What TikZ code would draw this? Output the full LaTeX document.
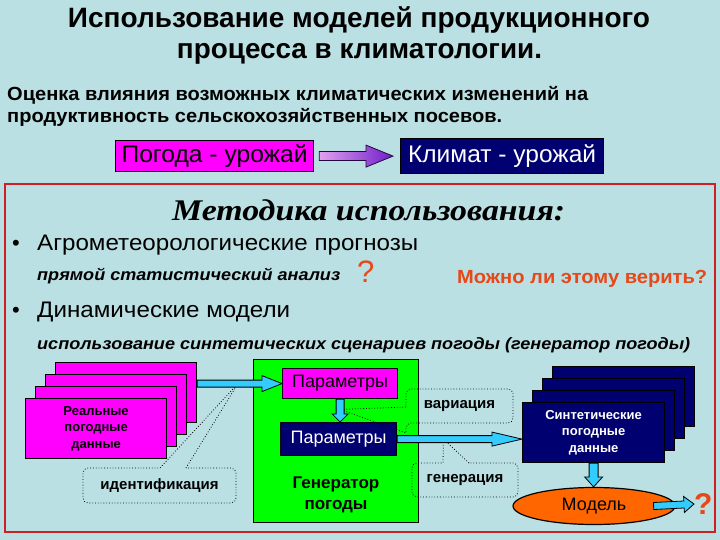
\documentclass[tikz,border=0pt]{standalone}
\usepackage{fontspec}
\setmainfont{Liberation Sans}
\newfontfamily\tnr{Liberation Serif}
\usetikzlibrary{shapes.geometric,shapes.callouts,calc}
\definecolor{bgC}{RGB}{187,224,227}
\definecolor{redC}{RGB}{206,32,32}
\definecolor{oraC}{RGB}{232,72,24}
\definecolor{magC}{RGB}{255,0,255}
\definecolor{navC}{RGB}{0,0,112}
\definecolor{grnC}{RGB}{0,255,0}
\definecolor{cyaC}{RGB}{51,204,255}
\definecolor{ellC}{RGB}{255,102,0}
\definecolor{purL}{RGB}{226,160,240}
\definecolor{purR}{RGB}{110,30,200}
\newcommand{\wfit}[2]{\resizebox{#1}{\height}{#2}}
\newcommand{\fsz}[2]{\fontsize{#1}{#2}\selectfont}
% fat arrow: [style]{start}{end}{shaft half}{head half}{head length}
\newcommand{\fatarr}[6][]{%
  \path[#1] let \p1=#2, \p2=#3, \n1={atan2(\y2-\y1,\x2-\x1)}, \n2={veclen(\x2-\x1,\y2-\y1)} in
    [shift={(\p1)},rotate=\n1]
    (0pt,{#4*1pt}) -- ({(\n2-#6)*1pt},{#4*1pt}) -- ({(\n2-#6)*1pt},{#5*1pt}) -- ({\n2*1pt},0pt)
    -- ({(\n2-#6)*1pt},{-#5*1pt}) -- ({(\n2-#6)*1pt},{-#4*1pt}) -- (0pt,{-#4*1pt}) -- cycle;}
\tikzset{
  txt/.style={inner sep=0pt, anchor=base west},
  box/.style={draw=black, line width=1.2pt, inner sep=0pt, anchor=north west},
  magbox/.style={box, fill=magC},
  navbox/.style={box, fill=navC, text=white},
  cyanarrow/.style={draw=black, line width=0.8pt, fill=cyaC},
  purplearrow/.style={draw=black!70!purR, line width=0.8pt, left color=purL, right color=purR},
  callbox/.style={shape=rectangle callout, draw=black, dotted, line width=0.8pt, rounded corners=5pt,
    inner sep=0pt, callout pointer width=26pt, font=\bfseries\fsz{15}{18}},
}
\begin{document}
\begin{tikzpicture}[x=1pt,y=-1pt]
\useasboundingbox (0,0) rectangle (720,540);
\fill[bgC] (0,0) rectangle (720,540);

% titles
\node[inner sep=0pt, anchor=base, font=\bfseries\fsz{28}{32}] (t1) at (359,28) {\wfit{582pt}{Использование моделей продукционного}};
\node[inner sep=0pt, anchor=base, font=\bfseries\fsz{28}{32}] (t2) at (359.5,59) {\wfit{365pt}{процесса в климатологии.}};
\node[txt, font=\bfseries\fsz{19}{22}] (s1) at (7,101) {\wfit{581pt}{Оценка влияния возможных климатических изменений на}};
\node[txt, font=\bfseries\fsz{19}{22}] (s2) at (7,123) {\wfit{495pt}{продуктивность сельскохозяйственных посевов.}};

% weather / climate boxes
\node[magbox, minimum width=198pt, minimum height=31pt, font=\fsz{24}{26}] (pogoda) at (115,140) {\wfit{186pt}{Погода - урожай}};
\node[navbox, minimum width=203pt, minimum height=35pt, font=\fsz{24}{26}] (klimat) at (400,138) {\wfit{188pt}{Климат - урожай}};
\fatarr[purplearrow]{($(pogoda.east)+(5,0)$)}{($(klimat.west)+(-7,0)$)}{4.5}{11}{27}

% red frame
\draw[redC, line width=2pt] (5,184) rectangle (715,532);

\node[inner sep=0pt, anchor=base west, font=\tnr\bfseries\itshape\fsz{30}{34}] (meth) at (172,220) {\wfit{393pt}{Методика использования:}};
\node[txt, font=\fsz{22}{26}] (b1) at (12,251) {•};
\node[txt, font=\fsz{22.5}{26}] (l1) at (37,251) {\wfit{381pt}{Агрометеорологические прогнозы}};
\node[txt, font=\bfseries\itshape\fsz{16.5}{19}] (l2) at (37,280) {\wfit{303pt}{прямой статистический анализ}};
\node[txt, font=\fsz{31}{34}, text=oraC] (q1) at (357,282) {?};
\node[txt, font=\bfseries\fsz{19}{22}, text=oraC] (l3) at (457,283) {\wfit{250pt}{Можно ли этому верить?}};
\node[txt, font=\fsz{22}{26}] (b2) at (12,317) {•};
\node[txt, font=\fsz{22.5}{26}] (l4) at (37,317) {\wfit{253pt}{Динамические модели}};
\node[txt, font=\bfseries\itshape\fsz{16.5}{19}] (l5) at (37,349) {\wfit{653pt}{использование синтетических сценариев погоды (генератор погоды)}};

% left stack
\node[magbox, minimum width=141pt, minimum height=60pt] (real4) at (55,362) {};
\node[magbox, minimum width=141pt, minimum height=60pt] (real3) at (45,374) {};
\node[magbox, minimum width=141pt, minimum height=60pt] (real2) at (35,386) {};
\node[magbox, minimum width=141pt, minimum height=60pt, align=center, font=\bfseries\fsz{13}{16.5}] (real1) at (25,398) {Реальные\\погодные\\данные};

% right stack
\node[navbox, minimum width=142pt, minimum height=60pt] (syn4) at (552,366) {};
\node[navbox, minimum width=142pt, minimum height=60pt] (syn3) at (542,378) {};
\node[navbox, minimum width=142pt, minimum height=60pt] (syn2) at (532,390) {};
\node[navbox, minimum width=142pt, minimum height=60pt, align=center, font=\bfseries\fsz{13}{16.5}] (syn1) at (522,402) {Синтетические\\погодные\\данные};

% generator
\node[box, fill=grnC, minimum width=165pt, minimum height=163pt] (gen) at (253,359) {};
\node[magbox, minimum width=115pt, minimum height=30pt, font=\fsz{18}{22}] (pm) at (282,368) {Параметры};
\node[navbox, minimum width=116pt, minimum height=33pt, font=\fsz{18}{22}] (pn) at (280,422) {Параметры};
\node[inner sep=0pt, align=center, font=\bfseries\fsz{17}{21.5}] (gtxt) at (336,495) {Генератор\\погоды};

% model
\node[ellipse, draw=black, line width=1.2pt, fill=ellC, minimum width=162pt, minimum height=37pt, inner sep=0pt, font=\fsz{18}{22}] (model) at (594,506) {Модель};
\node[inner sep=0pt, anchor=west, font=\bfseries\fsz{30}{34}, text=oraC] (q2) at (694,504) {?};

% pointer targets
\coordinate (pid) at ($(real4.east |- pm.west)!0.48!(pm.west)$);
\coordinate (pvar) at ($(pm.south)!0.45!(pm.south |- pn.north)$);
\coordinate (pgen) at ($(pn.east)!0.37!(syn1.west |- pn.east)$);

% callouts
\node[callbox, minimum width=153pt, minimum height=35pt, callout absolute pointer={(pid)}] (ident) at (159.5,485.5) {идентификация};
\node[callbox, minimum width=107pt, minimum height=34pt, callout absolute pointer={(pvar)}] (var) at (459.5,406) {вариация};
\node[callbox, minimum width=106pt, minimum height=34pt, callout absolute pointer={(pgen)}] (genr) at (465,480) {генерация};

% arrows
\fatarr[cyanarrow]{(real4.east |- pm.west)}{(pm.west)}{3.5}{8}{20}
\fatarr[cyanarrow]{(pm.south)}{(pm.south |- pn.north)}{4}{8}{8}
\fatarr[cyanarrow]{(pn.east)}{(syn1.west |- pn.east)}{3.5}{7}{30}
\fatarr[cyanarrow]{(syn1.south)}{(syn1.south |- model.north)}{4.5}{9}{10}
\fatarr[cyanarrow]{($(model.east)+(-22,0)$)}{(q2.west)}{3.5}{8}{10}
\end{tikzpicture}
\end{document}
